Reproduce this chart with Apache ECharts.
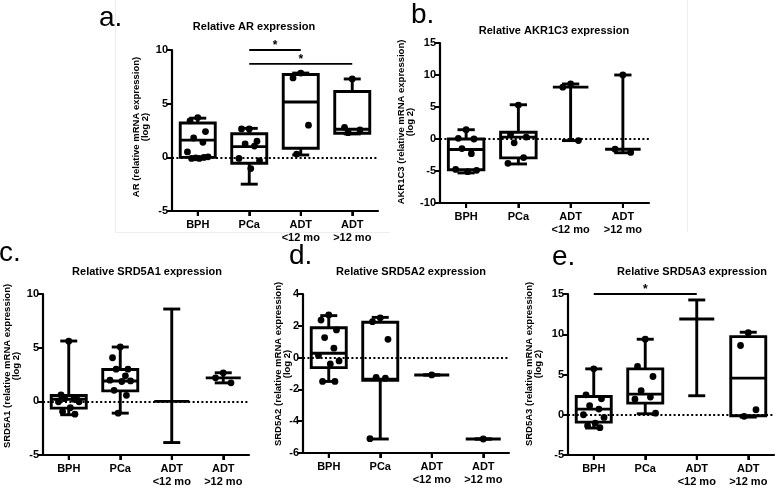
<!DOCTYPE html>
<html><head><meta charset="utf-8">
<script src="https://cdn.jsdelivr.net/npm/echarts/dist/echarts.min.js"></script>
<style>html,body{margin:0;padding:0;background:#fff}#c{width:778px;height:489px}</style>
</head><body><div id="c"></div>
<script>
const categories = ['BPH', 'PCa', 'ADT\n<12 mo', 'ADT\n>12 mo'];

// box stats: [min, Q1, median, Q3, max]
const arBoxes = [[-0.15, 0, 1.6, 3.2, 3.65], [-2.5, -0.55, 1.0, 2.2, 2.7], [0.22, 0.85, 5.15, 7.72, 7.85], [2.18, 2.24, 2.62, 6.14, 7.3]];
const arPoints = [[3.7, 3.4, 2.4, 1.8, 1.4, 0.5, 0.05, -0.1, -0.1, 0, -0.05], [2.65, 2.65, 1.5, 1.25, 1.05, -0.1, -0.3, -1.05], [7.85, 7.4, 3.0, 0.3], [7.3, 2.8, 2.55, 2.3]];
const arSig = [[1, 2, 10], [1, 3, 8.7]];

const akrBoxes = [[-5.3, -4.8, -1.65, 0, 1.45], [-3.9, -2.95, 0.3, 1.05, 5.35], [-0.25, 8.1, 8.1, 8.1, 8.6], [-2.15, -1.6, -1.6, -1.6, 10.0]];
const akrPoints = [[1.45, 0.1, 0.0, -1.5, -2.3, -4.75, -4.9, -5.1], [5.3, 0.7, 0.3, -0.6, -2.9, -3.8], [8.6, 8.1, -0.25], [10.0, -1.6, -2.1]];
const akrSig = [];

const s1Boxes = [[-1.25, -0.63, 0.2, 0.55, 5.62], [-1.1, 0.97, 1.9, 2.97, 5.06], [-3.84, 0, 0, 0, 8.6], [1.72, 2.19, 2.19, 2.19, 2.66]];
const s1Points = [[5.6, 0.6, 0.3, 0.25, 0.2, -0.05, -0.05, -0.6, -0.95, -1.2], [5.06, 4.06, 3.0, 3.0, 2.38, 1.97, 1.9, 1.85, 1.03, 0.56, -1.1], [], [2.66, 2.19, 1.72]];
const s1Sig = [];

const s2Boxes = [[-1.5, -0.63, 0.27, 1.88, 2.64], [-5.12, -1.42, -1.36, 2.22, 2.53], [-1.09, -1.09, -1.09, -1.09, -1.09], [-5.12, -5.12, -5.12, -5.12, -5.12]];
const s2Points = [[2.68, 2.36, 1.74, 1.26, 0.59, 0.13, -0.21, -0.4, -1.5, -1.5], [2.5, 2.26, 1.15, -1.24, -1.3, -5.1], [-1.09], [-5.12]];
const s2Sig = [];

const s3Boxes = [[-1.65, -0.91, 0.7, 2.27, 5.7], [0.12, 1.45, 2.56, 5.7, 9.38], [2.36, 11.9, 11.9, 11.9, 14.26], [-0.29, -0.12, 4.55, 9.71, 10.25]];
const s3Points = [[5.7, 2.48, 1.98, 1.12, 0.7, 0, -0.33, -1.03, -1.36, -1.6], [9.38, 6.0, 4.75, 2.98, 2.19, 1.94, 0.2], [], [10.2, 8.6, 0.62, -0.2]];
const s3Sig = [[0, 2, 15]];

const titles = ['Relative AR expression', 'Relative AKR1C3 expression', 'Relative SRD5A1 expression', 'Relative SRD5A2 expression', 'Relative SRD5A3 expression'];
const yNames = ['AR (relative mRNA expression)\n(log 2)', 'AKR1C3 (relative mRNA expression)\n(log 2)', 'SRD5A1 (relative mRNA expression)\n(log 2)', 'SRD5A2 (relative mRNA expression)\n(log 2)', 'SRD5A3 (relative mRNA expression)\n(log 2)'];
const letters = ['a.', 'b.', 'c.', 'd.', 'e.'];

const FF = '"Liberation Sans", Arial, Helvetica, sans-serif';
const JIT = [0, -0.15, 0.15, -0.08, 0.1, -0.2, 0.2, 0.03, -0.12, 0.12, -0.04];

const panels = [
  {grid: {left: 172, top: 50, width: 206, height: 161}, min: -5, max: 10, interval: 5, boxes: arBoxes, points: arPoints, sig: arSig,
   title: [254, 27], letter: [99, 18], yname: [141, 127]},
  {grid: {left: 440, top: 43, width: 209, height: 160}, min: -10, max: 15, interval: 5, boxes: akrBoxes, points: akrPoints, sig: akrSig,
   title: [554, 31], letter: [411, 15], yname: [406, 122]},
  {grid: {left: 43, top: 294, width: 206, height: 161}, min: -5, max: 10, interval: 5, boxes: s1Boxes, points: s1Points, sig: s1Sig,
   title: [147, 272], letter: [-1, 253], yname: [12, 366]},
  {grid: {left: 303, top: 294, width: 206, height: 159}, min: -6, max: 4, interval: 2, boxes: s2Boxes, points: s2Points, sig: s2Sig,
   title: [411, 272], letter: [289, 256], yname: [283, 364]},
  {grid: {left: 568, top: 294, width: 206, height: 161}, min: -5, max: 15, interval: 5, boxes: s3Boxes, points: s3Points, sig: s3Sig,
   title: [692, 272], letter: [552, 257], yname: [534, 364]}
];

const grids = [], xAxes = [], yAxes = [], series = [], graphics = [];
// faint panel borders of the source figure
graphics.push({type: 'line', shape: {x1: 115.5, y1: 0, x2: 115.5, y2: 232}, style: {stroke: '#eeeeee', lineWidth: 1}});
graphics.push({type: 'line', shape: {x1: 115, y1: 232.5, x2: 390, y2: 232.5}, style: {stroke: '#eeeeee', lineWidth: 1}});
graphics.push({type: 'line', shape: {x1: 687.5, y1: 0, x2: 687.5, y2: 232}, style: {stroke: '#eeeeee', lineWidth: 1}});

panels.forEach((p, gi) => {
  grids.push(Object.assign({containLabel: false, outerBoundsMode: 'none', show: false}, p.grid));
  xAxes.push({
    type: 'category', gridIndex: gi, data: categories, position: 'bottom',
    axisLine: {show: true, onZero: false, lineStyle: {color: '#000', width: 2.2}},
    axisTick: {show: true, alignWithLabel: true, length: 5, lineStyle: {color: '#000', width: 2}},
    axisLabel: {show: true, color: '#000', fontWeight: 'bold', fontSize: 11, fontFamily: FF, lineHeight: 13, margin: 7, interval: 0},
    splitLine: {show: false}
  });
  yAxes.push({
    type: 'value', gridIndex: gi, min: p.min, max: p.max, interval: p.interval,
    axisLine: {show: true, onZero: false, lineStyle: {color: '#000', width: 2.2}},
    axisTick: {show: true, length: 5, lineStyle: {color: '#000', width: 2}},
    axisLabel: {color: '#000', fontWeight: 'bold', fontSize: 11, fontFamily: FF, margin: 4},
    splitLine: {show: false}
  });
  // dotted zero reference line
  series.push({
    type: 'scatter', xAxisIndex: gi, yAxisIndex: gi, silent: true, symbolSize: 0,
    data: [[0, 0]],
    markLine: {silent: true, symbol: 'none', label: {show: false}, animation: false,
      lineStyle: {color: '#000', width: 2, type: [2, 2.4]},
      data: [{yAxis: 0}]}
  });
  series.push({
    type: 'custom', xAxisIndex: gi, yAxisIndex: gi, clip: false, silent: true,
    data: p.boxes.map((b, i) => [i, b[2]]),
    encode: {x: 0, y: 1},
    renderItem: (params, api) => {
      const i = api.value(0);
      const b = p.boxes[i], pts = p.points[i] || [];
      const band = api.size([1, 0])[0];
      const cx = api.coord([i, 0])[0];
      const Y = v => api.coord([i, v])[1];
      const bw = band * 0.68, cw = band * 0.33;
      const st = {stroke: '#000', lineWidth: 2.9, fill: null};
      const ch = [];
      const L = (x1, y1, x2, y2) => ch.push({type: 'line', shape: {x1, y1, x2, y2}, style: st});
      L(cx, Y(b[0]), cx, Y(b[1]));
      L(cx, Y(b[3]), cx, Y(b[4]));
      L(cx - cw / 2, Y(b[0]), cx + cw / 2, Y(b[0]));
      L(cx - cw / 2, Y(b[4]), cx + cw / 2, Y(b[4]));
      if (b[3] > b[1]) ch.push({type: 'rect', shape: {x: cx - bw / 2, y: Y(b[3]), width: bw, height: Y(b[1]) - Y(b[3])}, style: st});
      L(cx - bw / 2, Y(b[2]), cx + bw / 2, Y(b[2]));
      pts.forEach((v, j) => ch.push({type: 'circle', shape: {cx: cx + JIT[j % JIT.length] * band, cy: Y(v), r: 3.4}, style: {fill: '#000'}}));
      return {type: 'group', children: ch};
    }
  });
  if (p.sig.length) {
    series.push({
      type: 'custom', xAxisIndex: gi, yAxisIndex: gi, clip: false, silent: true,
      data: p.sig, encode: {x: [0, 1], y: 2},
      renderItem: (params, api) => {
        const a = api.coord([api.value(0), api.value(2)]);
        const b = api.coord([api.value(1), api.value(2)]);
        return {type: 'group', children: [
          {type: 'line', shape: {x1: a[0], y1: a[1], x2: b[0], y2: b[1]}, style: {stroke: '#000', lineWidth: 1.8}},
          {type: 'text', x: (a[0] + b[0]) / 2, y: a[1] - 4,
           style: {text: '*', fill: '#000', font: 'bold 12px ' + FF, align: 'center', verticalAlign: 'middle', textAlign: 'center', textVerticalAlign: 'middle'}}
        ]};
      }
    });
  }
  graphics.push({type: 'text', x: p.title[0], y: p.title[1],
    style: {text: titles[gi], fill: '#000', font: 'bold 11px ' + FF, align: 'center', verticalAlign: 'middle', textAlign: 'center', textVerticalAlign: 'middle'}});
  graphics.push({type: 'text', x: p.letter[0], y: p.letter[1],
    style: {text: letters[gi], fill: '#000', font: '28px ' + FF, align: 'left', verticalAlign: 'middle', textAlign: 'left', textVerticalAlign: 'middle'}});
  graphics.push({type: 'text', x: p.yname[0], y: p.yname[1], rotation: Math.PI / 2,
    style: {text: yNames[gi], fill: '#000', font: 'bold 9.5px ' + FF, lineHeight: 9, align: 'center', verticalAlign: 'middle', textAlign: 'center', textVerticalAlign: 'middle'}});
});

const chart = echarts.init(document.getElementById('c'), null, {renderer: 'canvas'});
chart.setOption({
  backgroundColor: '#fff',
  animation: false,
  grid: grids, xAxis: xAxes, yAxis: yAxes, series: series, graphic: graphics
});

// bottom category axis line and ticks, placed through the axes' own scales
const axisGraphics = [];
panels.forEach((p, gi) => {
  const finder = {xAxisIndex: gi, yAxisIndex: gi};
  const first = chart.convertToPixel(finder, [0, p.min]);
  const yb = first[1];
  axisGraphics.push({type: 'line', z: 100,
    shape: {x1: p.grid.left - 1, y1: yb, x2: p.grid.left + p.grid.width, y2: yb},
    style: {stroke: '#000', lineWidth: 2.2}});
  categories.forEach((c, i) => {
    const pt = chart.convertToPixel(finder, [i, p.min]);
    axisGraphics.push({type: 'line', z: 100,
      shape: {x1: pt[0], y1: yb, x2: pt[0], y2: yb + 5},
      style: {stroke: '#000', lineWidth: 2}});
  });
});
chart.setOption({graphic: graphics.concat(axisGraphics)});
</script>
</body></html>
